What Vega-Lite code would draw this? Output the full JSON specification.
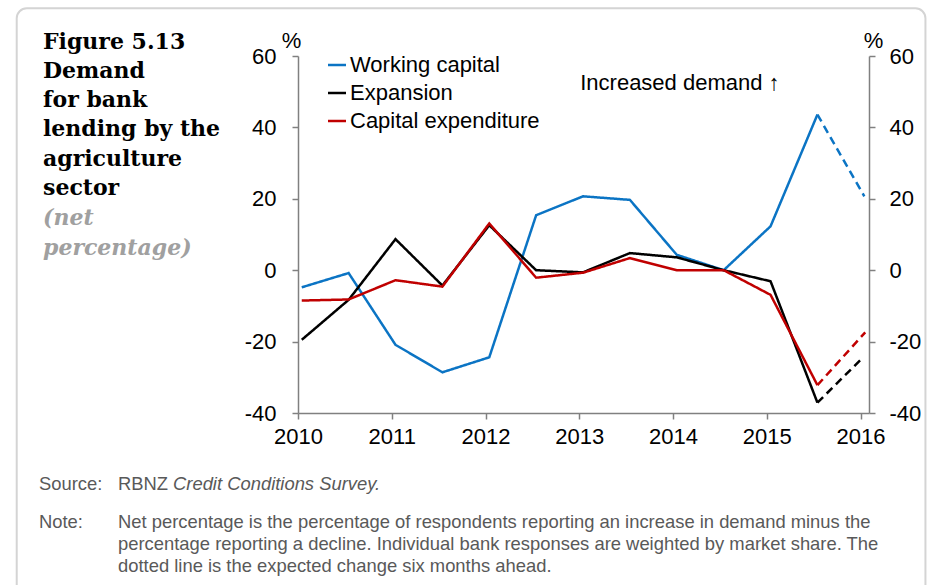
{
  "$schema": "https://vega.github.io/schema/vega-lite/v6.json",
  "background": "white",
  "padding": {"left": 15, "top": 7, "right": 5, "bottom": 0},
  "config": {
    "view": {"stroke": null},
    "font": "Liberation Sans",
    "axis": {"grid": false}
  },
  "columns": 3,
  "bounds": "flush",
  "spacing": {"row": 56, "column": 0},
  "concat": [
    {
      "width": 259,
      "height": 1,
      "data": {"values": [{}]},
      "mark": {"type": "text", "text": ""},
      "encoding": {},
      "title": {
        "text": ["Figure 5.13", "Demand", "for bank", "lending by the", "agriculture", "sector"],
        "subtitle": ["(net", "percentage)"],
        "orient": "bottom",
        "anchor": "start",
        "offset": 0,
        "dx": 4,
        "dy": -30,
        "baseline": "top",
        "font": "DejaVu Serif",
        "fontSize": 22,
        "fontWeight": "bold",
        "color": "black",
        "lineHeight": 29.3,
        "subtitleFont": "DejaVu Serif",
        "subtitleFontSize": 22,
        "subtitleFontStyle": "italic",
        "subtitleFontWeight": "bold",
        "subtitleColor": "#a0a0a0",
        "subtitleLineHeight": 30,
        "subtitlePadding": 8
      }
    },
    {
      "width": 571,
      "height": 357,
      "layer": [
        {
          "data": {"values": [{}]},
          "mark": {"type": "rect", "fill": null, "stroke": "#d4d4d4", "strokeWidth": 2, "cornerRadius": 10, "clip": false},
          "encoding": {
            "x": {"datum": 2007.0, "type": "quantitative"},
            "x2": {"datum": 2016.692},
            "y": {"datum": 73.37, "type": "quantitative", "axis": null},
            "y2": {"datum": -92}
          }
        },
        {
          "mark": {"type": "rule", "color": "#808080", "strokeWidth": 1.5},
          "encoding": {
            "y": {
              "datum": 0,
              "type": "quantitative",
              "scale": {"domain": [-40, 60], "nice": false, "zero": false},
              "axis": {
                "orient": "right",
                "values": [-40, -20, 0, 20, 40, 60],
                "labelExpr": "'' + datum.value",
                "title": "%",
                "titleAngle": 0,
                "titleAlign": "center",
                "titleBaseline": "alphabetic",
                "titleX": 4,
                "titleY": -9,
                "titleFontSize": 22,
                "titleFontWeight": "normal",
                "titleColor": "black",
                "labelFontSize": 22,
                "labelColor": "black",
                "labelPadding": 14,
                "tickSize": 6,
                "tickColor": "#808080",
                "tickWidth": 1.5,
                "domainColor": "#808080",
                "domainWidth": 1.5
              }
            }
          }
        },
        {
          "data": {
            "values": [
              {"series": "Working capital", "period": "actual", "t": 2010.04, "value": -4.8},
              {"series": "Working capital", "period": "actual", "t": 2010.54, "value": -0.8},
              {"series": "Working capital", "period": "actual", "t": 2011.04, "value": -20.9},
              {"series": "Working capital", "period": "actual", "t": 2011.54, "value": -28.6},
              {"series": "Working capital", "period": "actual", "t": 2012.04, "value": -24.4},
              {"series": "Working capital", "period": "actual", "t": 2012.54, "value": 15.4},
              {"series": "Working capital", "period": "actual", "t": 2013.04, "value": 20.7},
              {"series": "Working capital", "period": "actual", "t": 2013.54, "value": 19.7},
              {"series": "Working capital", "period": "actual", "t": 2014.04, "value": 4.3},
              {"series": "Working capital", "period": "actual", "t": 2014.54, "value": 0},
              {"series": "Working capital", "period": "actual", "t": 2015.04, "value": 12.3},
              {"series": "Working capital", "period": "actual", "t": 2015.54, "value": 43.6},
              {"series": "Working capital", "period": "expected", "t": 2015.54, "value": 43.6},
              {"series": "Working capital", "period": "expected", "t": 2016.04, "value": 20.7},
              {"series": "Expansion", "period": "actual", "t": 2010.04, "value": -19.5},
              {"series": "Expansion", "period": "actual", "t": 2010.54, "value": -8.3},
              {"series": "Expansion", "period": "actual", "t": 2011.04, "value": 8.7},
              {"series": "Expansion", "period": "actual", "t": 2011.54, "value": -4.3},
              {"series": "Expansion", "period": "actual", "t": 2012.04, "value": 12.6},
              {"series": "Expansion", "period": "actual", "t": 2012.54, "value": 0},
              {"series": "Expansion", "period": "actual", "t": 2013.04, "value": -0.6},
              {"series": "Expansion", "period": "actual", "t": 2013.54, "value": 4.8},
              {"series": "Expansion", "period": "actual", "t": 2014.04, "value": 3.6},
              {"series": "Expansion", "period": "actual", "t": 2014.54, "value": 0},
              {"series": "Expansion", "period": "actual", "t": 2015.04, "value": -3.1},
              {"series": "Expansion", "period": "actual", "t": 2015.54, "value": -37.1},
              {"series": "Expansion", "period": "expected", "t": 2015.54, "value": -37.1},
              {"series": "Expansion", "period": "expected", "t": 2016.02, "value": -24.6},
              {"series": "Capital expenditure", "period": "actual", "t": 2010.04, "value": -8.5},
              {"series": "Capital expenditure", "period": "actual", "t": 2010.54, "value": -8.2},
              {"series": "Capital expenditure", "period": "actual", "t": 2011.04, "value": -2.8},
              {"series": "Capital expenditure", "period": "actual", "t": 2011.54, "value": -4.6},
              {"series": "Capital expenditure", "period": "actual", "t": 2012.04, "value": 13.1},
              {"series": "Capital expenditure", "period": "actual", "t": 2012.54, "value": -2.1},
              {"series": "Capital expenditure", "period": "actual", "t": 2013.04, "value": -0.7},
              {"series": "Capital expenditure", "period": "actual", "t": 2013.54, "value": 3.4},
              {"series": "Capital expenditure", "period": "actual", "t": 2014.04, "value": 0},
              {"series": "Capital expenditure", "period": "actual", "t": 2014.54, "value": 0},
              {"series": "Capital expenditure", "period": "actual", "t": 2015.04, "value": -6.9},
              {"series": "Capital expenditure", "period": "actual", "t": 2015.54, "value": -32.2},
              {"series": "Capital expenditure", "period": "expected", "t": 2015.54, "value": -32.2},
              {"series": "Capital expenditure", "period": "expected", "t": 2016.05, "value": -17.4}
            ]
          },
          "mark": {"type": "line", "strokeWidth": 2.5},
          "encoding": {
            "x": {
              "field": "t",
              "type": "quantitative",
              "scale": {"domain": [2010, 2016.09], "nice": false, "zero": false},
              "axis": {
                "values": [2010, 2011, 2012, 2013, 2014, 2015, 2016],
                "format": "d",
                "title": null,
                "labelFontSize": 22,
                "labelColor": "black",
                "labelPadding": 7,
                "labelFlush": false,
                "tickSize": 6,
                "tickColor": "#808080",
                "tickWidth": 1.5,
                "domainColor": "#808080",
                "domainWidth": 1.5
              }
            },
            "y": {
              "field": "value",
              "type": "quantitative",
              "scale": {"domain": [-40, 60], "nice": false, "zero": false},
              "axis": {
                "orient": "left",
                "values": [-40, -20, 0, 20, 40, 60],
                "labelExpr": "'' + datum.value",
                "title": "%",
                "titleAngle": 0,
                "titleAlign": "center",
                "titleBaseline": "alphabetic",
                "titleX": -7,
                "titleY": -9,
                "titleFontSize": 22,
                "titleFontWeight": "normal",
                "titleColor": "black",
                "labelFontSize": 22,
                "labelColor": "black",
                "labelPadding": 16,
                "tickSize": 6,
                "tickColor": "#808080",
                "tickWidth": 1.5,
                "domainColor": "#808080",
                "domainWidth": 1.5
              }
            },
            "color": {
              "field": "series",
              "type": "nominal",
              "scale": {
                "domain": ["Working capital", "Expansion", "Capital expenditure"],
                "range": ["#0b74c4", "#000000", "#c00000"]
              },
              "legend": {
                "orient": "none",
                "legendX": 287,
                "legendY": -2,
                "title": null,
                "padding": 0,
                "symbolType": "stroke",
                "symbolSize": 324,
                "symbolStrokeWidth": 2.5,
                "labelFontSize": 22,
                "labelColor": "black",
                "labelOffset": 2,
                "rowPadding": 6,
                "labelLimit": 400
              }
            },
            "strokeDash": {
              "field": "period",
              "type": "nominal",
              "scale": {"domain": ["actual", "expected"], "range": [[1, 0], [8, 5]]},
              "legend": null
            }
          }
        },
        {
          "data": {"values": [{}]},
          "mark": {"type": "text", "text": "Increased demand ↑", "align": "left", "baseline": "alphabetic", "fontSize": 22, "color": "black"},
          "encoding": {
            "x": {"datum": 2013.01, "type": "quantitative"},
            "y": {"datum": 50.4, "type": "quantitative", "axis": null}
          }
        }
      ],
      "resolve": {"axis": {"y": "independent"}}
    },
    {
      "width": 1,
      "height": 1,
      "data": {"values": [{}]},
      "mark": {"type": "text", "text": ""},
      "encoding": {}
    },
    {
      "width": 79,
      "height": 1,
      "data": {"values": [{}]},
      "mark": {"type": "text", "text": ""},
      "encoding": {},
      "title": {
        "text": "Source:",
        "subtitle": "Note:",
        "orient": "bottom",
        "anchor": "start",
        "offset": 0,
        "baseline": "top",
        "font": "Liberation Sans",
        "fontSize": 18.4,
        "fontWeight": "normal",
        "color": "#595959",
        "subtitleFont": "Liberation Sans",
        "subtitleFontSize": 18.4,
        "subtitleColor": "#595959",
        "subtitlePadding": 20
      }
    },
    {
      "width": 55,
      "height": 1,
      "data": {"values": [{}]},
      "mark": {"type": "text", "text": ""},
      "encoding": {},
      "title": {
        "text": "RBNZ",
        "subtitle": [
          "Net percentage is the percentage of respondents reporting an increase in demand minus the",
          "percentage reporting a decline. Individual bank responses are weighted by market share. The",
          "dotted line is the expected change six months ahead."
        ],
        "orient": "bottom",
        "anchor": "start",
        "offset": 0,
        "dx": -180,
        "baseline": "top",
        "font": "Liberation Sans",
        "fontSize": 18.4,
        "fontWeight": "normal",
        "color": "#595959",
        "subtitleFont": "Liberation Sans",
        "subtitleFontSize": 18.4,
        "subtitleColor": "#595959",
        "subtitleLineHeight": 22,
        "subtitlePadding": 20
      }
    },
    {
      "width": 1,
      "height": 1,
      "data": {"values": [{}]},
      "mark": {"type": "text", "text": ""},
      "encoding": {},
      "title": {
        "text": "Credit Conditions Survey.",
        "orient": "bottom",
        "anchor": "start",
        "offset": 0,
        "dx": -696,
        "baseline": "top",
        "font": "Liberation Sans",
        "fontSize": 18.4,
        "fontWeight": "normal",
        "fontStyle": "italic",
        "color": "#595959"
      }
    }
  ]
}
